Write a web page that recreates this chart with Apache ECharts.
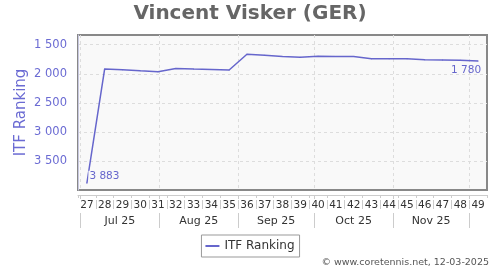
<!DOCTYPE html>
<html>
<head>
<meta charset="utf-8">
<script src="https://cdn.jsdelivr.net/npm/echarts@6/dist/echarts.min.js"></script>
<style>html,body{margin:0;padding:0;background:#fff}#c{width:500px;height:270px}</style>
</head>
<body>
<div id="c"></div>
<script>
const titleText = 'Vincent Visker (GER)';
const footerText = '© www.coretennis.net, 12-03-2025';
const seriesName = 'ITF Ranking';
const weeks = ['27','28','29','30','31','32','33','34','35','36','37','38','39','40','41','42','43','44','45','46','47','48','49'];
const ranking = [3883, 1917, 1933, 1950, 1965, 1910, 1920, 1925, 1935, 1664, 1682, 1705, 1716, 1699, 1702, 1705, 1740, 1740, 1740, 1757, 1763, 1768, 1780];
const yTicks = [1500, 2000, 2500, 3000, 3500];
const yMin = 1333, yMax = 4000;
const months = ['Jul 25', 'Aug 25', 'Sep 25', 'Oct 25', 'Nov 25'];
const monthStarts = ['2025-07-01', '2025-08-01', '2025-09-01', '2025-10-01', '2025-11-01', '2025-12-01'];
const axisStart = '2025-06-30', axisEnd = '2025-12-08';

const dayOf = s => (Date.parse(s) - Date.parse(axisStart)) / 864e5;
const dayMax = dayOf(axisEnd);
const monthStartDays = monthStarts.map(dayOf);
const monthMidDays = months.map((m, i) => (monthStartDays[i] + monthStartDays[i + 1]) / 2);
const weekBoundDays = weeks.slice(1).map((w, i) => 7 * (i + 1));
const weekMidDays = weeks.map((w, i) => 7 * i + 3.5);
const fmt = v => String(v).replace(/\B(?=(\d{3})+(?!\d))/g, ' ');

const FONT = 'DejaVu Sans';
const lineColor = '#6666cc';

const seriesData = ranking.map((v, i) => {
  if (i === 0) return { value: v, label: { show: true, position: 'right', distance: 1, offset: [0, -7], backgroundColor: '#f9f9f9', padding: [0, 1] } };
  if (i === ranking.length - 1) return { value: v, label: { show: true, position: 'bottom', distance: 3, offset: [-12, 0] } };
  return v;
});

const chart = echarts.init(document.getElementById('c'), null, { renderer: 'canvas' });
chart.setOption({
  animation: false,
  backgroundColor: '#fff',
  textStyle: { fontFamily: FONT },
  title: [
    { text: titleText, left: 'center', top: 4, padding: 0,
      textStyle: { fontFamily: FONT, fontSize: 20, fontWeight: 'bold', color: '#666' } },
    { text: footerText, right: 11, top: 258, padding: 0,
      textStyle: { fontFamily: FONT, fontSize: 9.5, fontWeight: 'normal', color: '#555' } }
  ],
  legend: {
    data: [{ name: seriesName, icon: 'rect' }],
    left: 'center', top: 235,
    itemWidth: 14, itemHeight: 2, itemGap: 5,
    borderColor: '#999', borderWidth: 1, borderRadius: 0,
    padding: [5, 5, 5, 4],
    textStyle: { fontFamily: FONT, fontSize: 12, color: '#333' }
  },
  grid: { left: 78, right: 13, top: 35, bottom: 80, show: true,
    backgroundColor: '#f9f9f9', borderColor: '#888', borderWidth: 2, containLabel: false },
  xAxis: [
    { type: 'category', data: weeks, position: 'bottom', offset: 5, boundaryGap: true,
      axisLine: { show: true, lineStyle: { color: '#ccc' } },
      axisTick: { show: true, interval: 0, length: 3, lineStyle: { color: '#ccc' } },
      axisLabel: { show: false }, splitLine: { show: false } },
    { type: 'value', min: 0, max: dayMax, position: 'bottom', offset: 10,
      axisLine: { show: false },
      axisTick: { show: true, customValues: weekBoundDays, length: 9, lineStyle: { color: '#ccc' } },
      axisLabel: { show: true, customValues: weekMidDays, margin: 0, fontSize: 10.5, color: '#333', fontFamily: FONT,
        formatter: v => weeks[Math.round((v - 3.5) / 7)] },
      splitLine: { show: false } },
    { type: 'value', min: 0, max: dayMax, position: 'bottom', offset: 5,
      axisLine: { show: false },
      axisTick: { show: true, customValues: monthStartDays, length: 4, lineStyle: { color: '#ccc' } },
      axisLabel: { show: false },
      splitLine: { show: true, lineStyle: { color: '#ddd', type: [3, 3], width: 1 } } },
    { type: 'value', min: 0, max: dayMax, position: 'bottom', offset: 23,
      axisLine: { show: false },
      axisTick: { show: true, customValues: monthStartDays, length: 15, lineStyle: { color: '#ccc' } },
      axisLabel: { show: true, customValues: monthMidDays, margin: 2.5, fontSize: 11, color: '#333', fontFamily: FONT,
        formatter: v => { let b = 0; monthMidDays.forEach((m, i) => { if (Math.abs(m - v) < Math.abs(monthMidDays[b] - v)) b = i; }); return months[b]; } },
      splitLine: { show: false } }
  ],
  yAxis: {
    type: 'value', inverse: true, min: yMin, max: yMax, position: 'left', offset: 5,
    name: seriesName, nameLocation: 'middle', nameGap: 44, nameRotate: 90, nameMoveOverlap: false,
    nameTextStyle: { fontFamily: FONT, fontSize: 15, color: '#6b6bd3' },
    axisLine: { show: true, lineStyle: { color: '#c8c8e0' } },
    axisTick: { show: false, customValues: yTicks },
    axisLabel: { show: true, customValues: yTicks, margin: 6, fontSize: 11.5, color: '#6b6bd3', fontFamily: FONT, formatter: v => fmt(v) },
    splitLine: { show: true, lineStyle: { color: '#ddd', type: [3, 3], width: 1 } }
  },
  series: [{
    name: seriesName, type: 'line', xAxisIndex: 0, yAxisIndex: 0,
    data: seriesData,
    symbol: 'circle', symbolSize: 1, showSymbol: true,
    lineStyle: { color: lineColor, width: 1.5 },
    itemStyle: { color: lineColor },
    label: { show: false, fontFamily: FONT, fontSize: 10.5, color: lineColor, formatter: p => fmt(p.value) }
  }]
});
</script>
</body>
</html>
